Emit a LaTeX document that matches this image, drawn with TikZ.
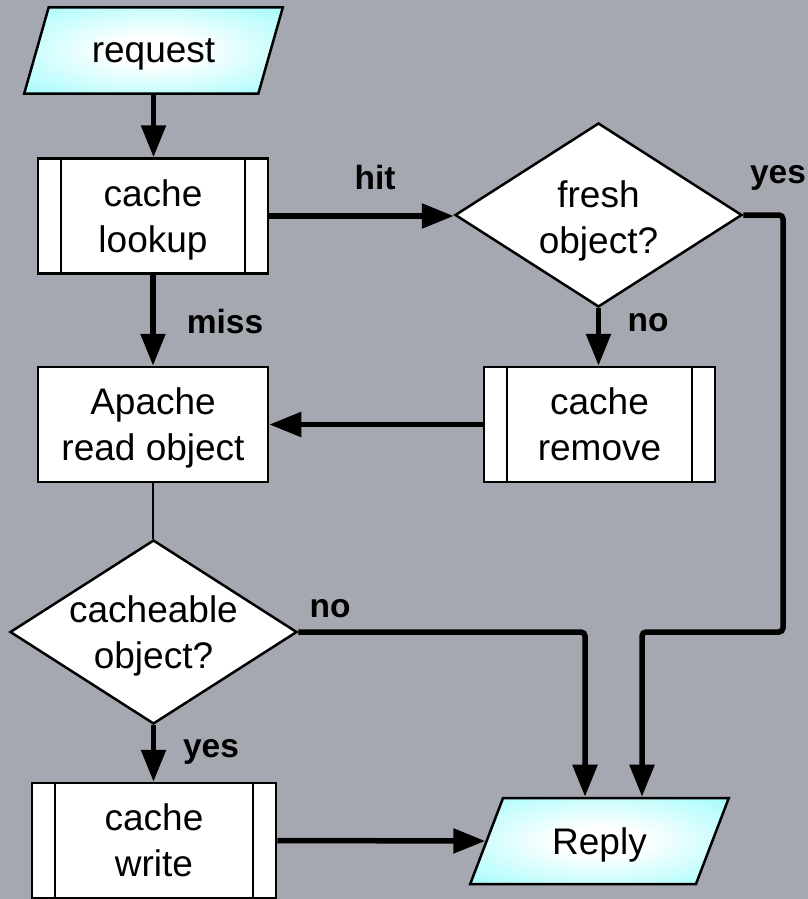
\documentclass[tikz,border=0pt]{standalone}
\usepackage{fontspec}
\setmainfont{Liberation Sans}
\usetikzlibrary{shapes.geometric,arrows.meta}
\definecolor{bgc}{RGB}{165,168,176}
\definecolor{cyanc}{RGB}{118,250,250}
\pgfdeclareradialshading{cyanball}{\pgfpoint{0bp}{0bp}}{color(0bp)=(white); color(8bp)=(white); color(50bp)=(cyanc); color(100bp)=(cyanc)}
\newcommand\mainf{\fontsize{37}{46}\selectfont}
\newcommand\labf{\fontsize{33.5}{40}\selectfont\bfseries}
\begin{document}
\begin{tikzpicture}[x=1pt,y=-1pt,
  io/.style={trapezium, trapezium left angle=59, trapezium right angle=121,
    trapezium stretches=true, minimum width=259pt, minimum height=86pt,
    draw, line width=2.5pt, shading=cyanball, inner sep=0pt, font=\mainf, text depth=-5pt},
  proc/.style={rectangle, draw, fill=white, line width=2.5pt, minimum height=115pt,
    inner sep=0pt, align=center, font=\mainf, text depth=-5pt,
    path picture={\draw[line width=2.5pt]
      ([xshift=23pt]path picture bounding box.north west) -- ([xshift=23pt]path picture bounding box.south west)
      ([xshift=-23pt]path picture bounding box.north east) -- ([xshift=-23pt]path picture bounding box.south east);}},
  plainbox/.style={rectangle, draw, fill=white, line width=2.5pt, minimum height=115pt,
    inner sep=0pt, align=center, font=\mainf, text depth=-5pt},
  dec/.style={diamond, draw, fill=white, line width=2.5pt, inner sep=0pt,
    minimum width=287pt, minimum height=184pt},
  txt/.style={font=\mainf, align=center, inner sep=0pt},
  lab/.style={font=\labf, inner sep=0pt},
  arr/.style={line width=5.5pt, rounded corners=4pt, -{Triangle[width=24pt,length=32pt]}},
  thinline/.style={line width=2.5pt}
]
\fill[bgc] (0,0) rectangle (808,899);
\useasboundingbox (0,0) rectangle (808,899);

\node[io] (request) at (153.5,50.5) {request};
\node[proc, minimum width=230pt] (lookup) at (153,216) {cache\\lookup};
\node[dec] (fresh) at (598.5,215) {};
\node[txt] (freshtxt) at (598.5,221) {fresh\\object?};
\node[plainbox, minimum width=230pt] (apache) at (153,424.5) {Apache\\read object};
\node[proc, minimum width=231pt] (remove) at (599.5,424.5) {cache\\remove};
\node[dec] (cacheable) at (153.5,632) {};
\node[txt] (cacheabletxt) at (153.5,636) {cacheable\\object?};
\node[proc, minimum width=244pt] (write) at (154,840.5) {cache\\write};
\node[io] (reply) at (599.5,841) {Reply};

\coordinate (nodrop) at (585,632);
\coordinate (yesR) at (783,215);
\coordinate (yesB) at (783,632);
\coordinate (yesL) at (642,632);

\draw[arr] (request.south) -- (request.south |- lookup.north);
\draw[arr] (lookup.east) -- (lookup.east -| fresh.west);
\draw[arr] (lookup.south) -- (apache.north);
\draw[arr] (fresh.south) -- (fresh.south |- remove.north);
\draw[arr] (remove.west) -- (apache.east);
\draw[thinline] (apache.south) -- (apache.south |- cacheable.north);
\draw[arr] (cacheable.south) -- (cacheable.south |- write.north);
\draw[arr] (write.east) -- (reply.west);
\draw[arr] (cacheable.east) -- (nodrop) -- (nodrop |- reply.north);
\draw[arr] (fresh.east) -- (yesR) -- (yesB) -- (yesL) -- (yesL |- reply.north);

\node[lab] (lhit) at (375,178) {hit};
\node[lab] (lyes1) at (778,178) {yes};
\node[lab] (lno1) at (648,323) {no};
\node[lab] (lmiss) at (225,322) {miss};
\node[lab] (lno2) at (330,609) {no};
\node[lab] (lyes2) at (211,752) {yes};
\end{tikzpicture}
\end{document}
